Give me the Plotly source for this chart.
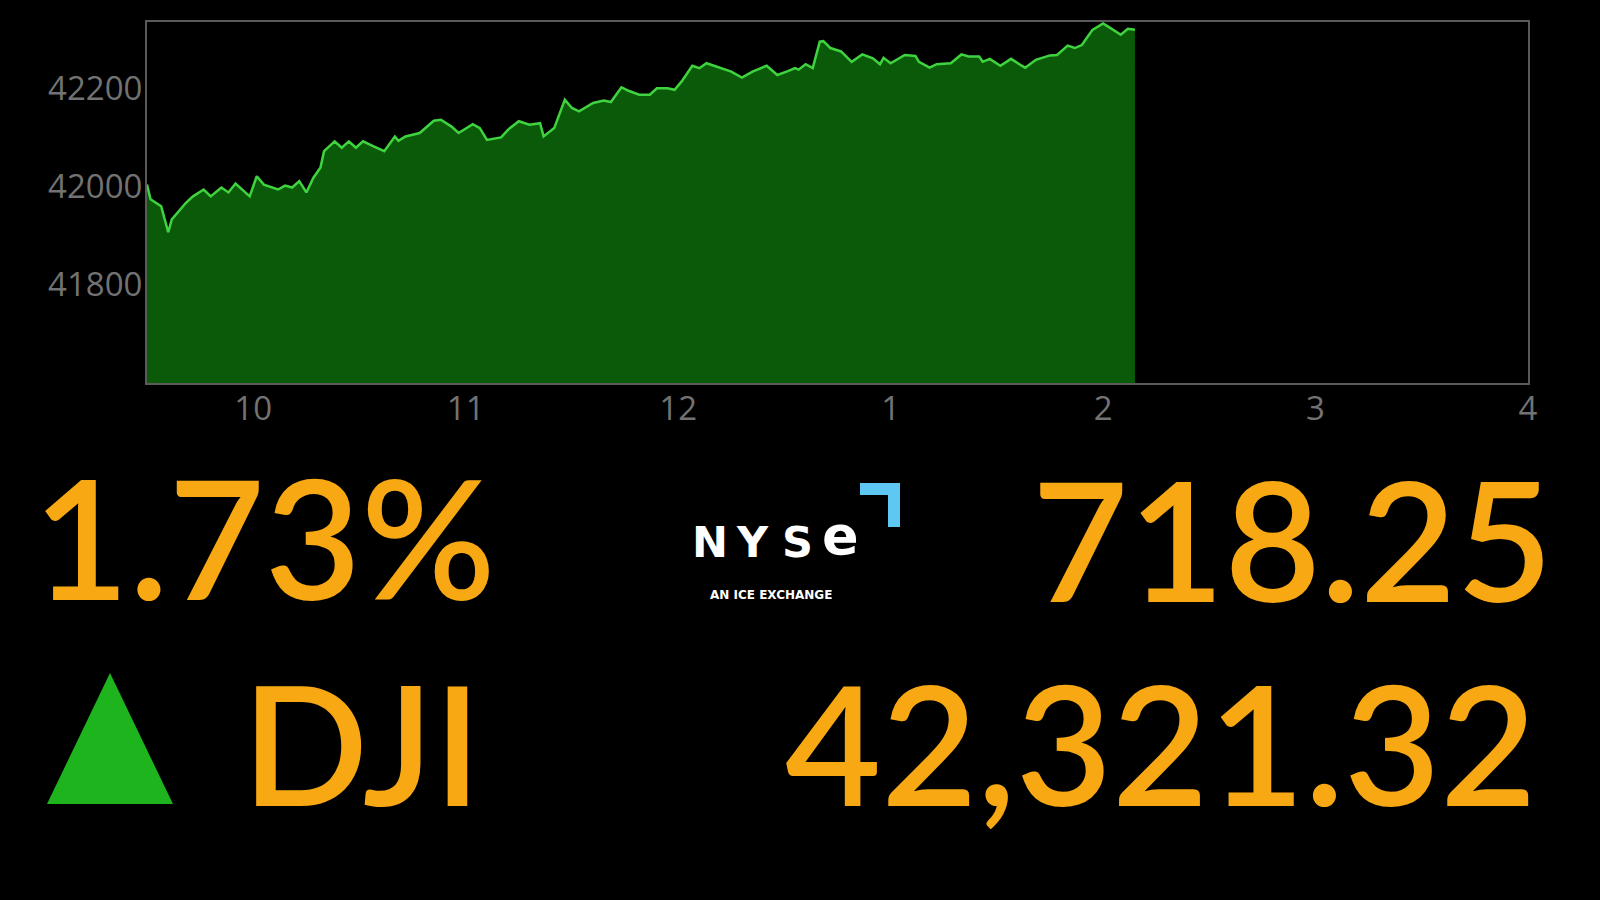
import plotly.graph_objects as go

# ---- data ----
times = ["09:30", "09:31", "09:34", "09:36", "09:37", "09:41", "09:43", "09:46", "09:48", "09:51",
         "09:53", "09:55", "09:59", "10:01", "10:03", "10:07", "10:09", "10:11", "10:13", "10:15",
         "10:17", "10:19", "10:20", "10:23", "10:25", "10:27", "10:29", "10:31", "10:34", "10:37",
         "10:40", "10:41", "10:43", "10:47", "10:51", "10:53", "10:56", "10:58", "11:02", "11:04",
         "11:06", "11:10", "11:12", "11:15", "11:18", "11:21", "11:22", "11:25", "11:28", "11:30",
         "11:32", "11:36", "11:39", "11:41", "11:44", "11:46", "11:49", "11:52", "11:54", "11:57",
         "11:59", "12:01", "12:04", "12:06", "12:08", "12:11", "12:15", "12:18", "12:21", "12:25",
         "12:28", "12:31", "12:33", "12:34", "12:36", "12:38", "12:40", "12:41", "12:43", "12:46",
         "12:49", "12:52", "12:55", "12:57", "12:58", "13:00", "13:04", "13:07", "13:08", "13:11",
         "13:13", "13:17", "13:20", "13:22", "13:25", "13:26", "13:28", "13:31", "13:34", "13:37",
         "13:38", "13:41", "13:45", "13:47", "13:50", "13:52", "13:54", "13:57", "14:00", "14:02",
         "14:05", "14:07", "14:09"]
values = [42004, 41974, 41960, 41907, 41933, 41967, 41980, 41994, 41980, 41998,
          41988, 42006, 41980, 42021, 42004, 41994, 42002, 41998, 42011, 41988,
          42018, 42039, 42072, 42092, 42079, 42092, 42079, 42092, 42082, 42072,
          42102, 42093, 42102, 42109, 42134, 42136, 42122, 42109, 42127, 42119,
          42095, 42100, 42116, 42133, 42126, 42129, 42102, 42119, 42177, 42160,
          42153, 42170, 42175, 42172, 42202, 42195, 42187, 42187, 42200, 42200,
          42197, 42214, 42246, 42241, 42251, 42244, 42234, 42222, 42234, 42246,
          42227, 42235, 42241, 42238, 42249, 42241, 42295, 42296, 42282, 42275,
          42254, 42269, 42261, 42249, 42262, 42251, 42268, 42266, 42254, 42242,
          42249, 42251, 42269, 42265, 42265, 42254, 42260, 42246, 42260, 42246,
          42242, 42258, 42267, 42268, 42287, 42282, 42288, 42319, 42332, 42323,
          42309, 42321, 42319]

x_tick_vals = [10, 11, 12, 13, 14, 15, 16]
x_tick_text = ["10", "11", "12", "1", "2", "3", "4"]
y_tick_vals = [41800, 42000, 42200]

pct_change = "1.73%"
point_change = "718.25"
index_name = "DJI"
index_level = "42,321.32"

# ---- helpers ----
hours = [int(t.split(":")[0]) + int(t.split(":")[1]) / 60 for t in times]

W, H = 1600, 900
L, R, T, B = 147, 1528, 22, 383  # plot area in pixels


def px(x):
    return (x - L) / (R - L)


def py(y):
    return (B - y) / (B - T)


ORANGE = "#F7A813"
GRAY = "#727272"

fig = go.Figure()
fig.add_trace(go.Scatter(
    x=hours, y=values, mode="lines",
    line=dict(color="#3fd43f", width=2.5),
    fill="tozeroy", fillcolor="#0a5a0a",
    hoverinfo="skip", showlegend=False,
))

fig.update_layout(
    width=W, height=H,
    margin=dict(l=L, r=W - R, t=T, b=H - B),
    paper_bgcolor="black", plot_bgcolor="black",
    xaxis=dict(range=[9.5, 16], tickvals=x_tick_vals, ticktext=x_tick_text,
               showgrid=False, zeroline=False, showline=True, mirror=True,
               linecolor="#5a5a5a", linewidth=2, ticks="", ticklabelstandoff=-5,
               tickfont=dict(family="Open Sans", size=33, color=GRAY)),
    yaxis=dict(range=[41600, 42335], tickvals=y_tick_vals,
               showgrid=False, zeroline=False, showline=True, mirror=True,
               linecolor="#5a5a5a", linewidth=2, ticks="", ticklabelstandoff=-4,
               tickformat="d",
               tickfont=dict(family="Open Sans", size=33, color=GRAY)),
)

big = dict(family="Lato", size=166, color=ORANGE, weight=600)
annos = [
    dict(text=pct_change, x=px(264), y=py(600)),
    dict(text=point_change, x=px(1292), y=py(602)),
    dict(text=index_name, x=px(361), y=py(806)),
    dict(text=index_level, x=px(1160), y=py(806)),
]
for a in annos:
    fig.add_annotation(xref="paper", yref="paper", showarrow=False, xanchor="center",
                       yanchor="bottom", font=big, yshift=-37, **a)

# NYSE logo (text + bracket)
logo_letters = [("N", 710, 43), ("Y", 752, 43), ("S", 797, 43), ("e", 840, 54)]
for ch, cx, sz in logo_letters:
    fig.add_annotation(xref="paper", yref="paper", showarrow=False, text=f"<b>{ch}</b>",
                       x=px(cx), y=py(558), xanchor="center", yanchor="bottom", yshift=-11,
                       font=dict(family="DejaVu Sans", size=sz, color="white"))
fig.add_annotation(xref="paper", yref="paper", showarrow=False, text="<b>AN ICE EXCHANGE</b>",
                   x=px(771), y=py(595), xanchor="center", yanchor="middle",
                   font=dict(family="DejaVu Sans", size=12, color="white"))

BLUE = "#5ec8f2"
fig.add_shape(type="rect", xref="paper", yref="paper", x0=px(860), x1=px(900),
              y0=py(495), y1=py(483), fillcolor=BLUE, line_width=0)
fig.add_shape(type="rect", xref="paper", yref="paper", x0=px(888), x1=px(900),
              y0=py(527), y1=py(483), fillcolor=BLUE, line_width=0)

# up triangle
fig.add_shape(type="path", xref="paper", yref="paper",
              path=f"M {px(47)},{py(804)} L {px(173)},{py(804)} L {px(110)},{py(673)} Z",
              fillcolor="#1db41d", line_width=0)

fig.write_html("out.html", config={"displayModeBar": False},
               post_script="document.body.style.margin='0';document.body.style.background='black';")
